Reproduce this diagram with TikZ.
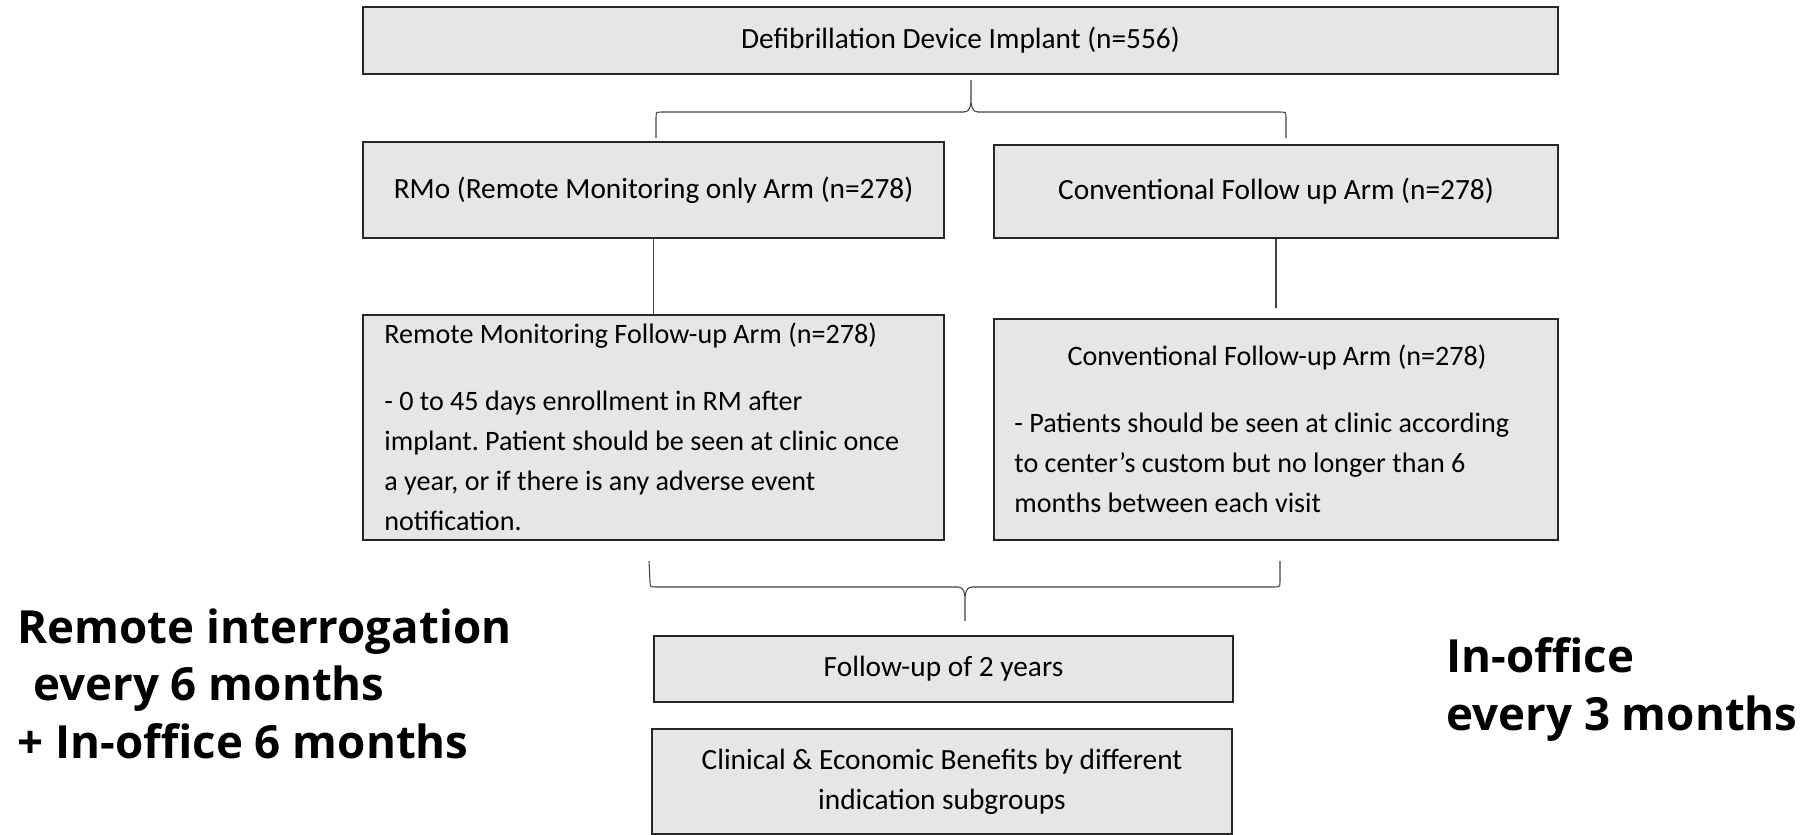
\documentclass[tikz,border=0pt]{standalone}
\usepackage{fontspec}
\setmainfont{Carlito}
\newfontfamily\notefont{Open Sans}
\usepackage{tikz}
\usetikzlibrary{positioning}
\definecolor{boxfill}{HTML}{E6E6E6}
\frenchspacing

\begin{document}
\begin{tikzpicture}[x=0.02cm, y=-0.02cm,
    box/.style={draw=black!85, line width=1.2pt, fill=boxfill, inner sep=0pt,
        font=\fontsize{16.7}{22.7}\selectfont, align=center},
    armtext/.style={font=\fontsize{16}{22.7}\selectfont, align=left, anchor=base west, inner sep=0pt},
    link/.style={draw=black!75, line width=0.6pt},
    note/.style={font=\notefont\bfseries\fontsize{26}{32.6}\selectfont,
        align=left, anchor=base west, inner sep=0pt}]
    \useasboundingbox (0,0) rectangle (1813,835);

    \node[box, minimum width=23.9cm, minimum height=1.34cm] (implant) at (960.5,40.5)
        {Defibrillation Device Implant (n=556)};
    \node[box, minimum width=11.62cm, minimum height=1.92cm] (rmo) at (653.5,190)
        {RMo (Remote Monitoring only Arm (n=278)};
    \node[box, minimum width=11.28cm, minimum height=1.86cm] (conv) at (1276,191.5)
        {Conventional Follow up Arm (n=278)};
    \node[box, minimum width=11.62cm, minimum height=4.5cm] (rmfu) at (653.5,427.5) {};
    \node[box, minimum width=11.28cm, minimum height=4.42cm] (convfu) at (1276,429.5) {};
    \node[box, minimum width=11.58cm, minimum height=1.32cm] (twoyears) at (943.5,669)
        {Follow-up of 2 years};
    \node[box, minimum width=11.6cm, minimum height=2.1cm] (benefits) at (942,781.5)
        {Clinical \& Economic Benefits by different\\ indication subgroups};

    \node[armtext] (rmfutext) at (384,530)
        {Remote Monitoring Follow-up Arm (n=278)\\[15.3pt]
         - 0 to 45 days enrollment in RM after\\
         implant. Patient should be seen at clinic once\\
         a year, or if there is any adverse event\\
         notification.};
    \node[armtext, anchor=base] (convfutitle) at (1277,365) {Conventional Follow-up Arm (n=278)};
    \node[armtext] (convfutext) at (1014,512)
        {- Patients should be seen at clinic according\\
         to center’s custom but no longer than 6\\
         months between each visit};

    \draw[link] (rmo) -- (rmfu);
    \draw[link, shorten >=0.2cm] (conv) -- (convfu);

    \draw[link] (656,138) -- (656,118) .. controls (656,112) .. (662,112) -- (964,112)
        .. controls (970,112) and (971,106) .. (971,98) -- (971,80) -- (971,98)
        .. controls (971,106) and (972,112) .. (978,112) -- (1280,112)
        .. controls (1286,112) .. (1286,118) -- (1286,138);
    \draw[link] (649,561) -- (650,581) .. controls (650,587) .. (656,587) -- (958,587)
        .. controls (964,587) and (965,593) .. (965,601) -- (965,621) -- (965,601)
        .. controls (965,593) and (966,587) .. (972,587) -- (1274,587)
        .. controls (1280,587) .. (1280,581) -- (1280,561);

    \node[note] (remote) at (17,758)
        {Remote interrogation\\\hspace*{0.35em}every 6 months\\+ In-office 6 months};
    \node[note] (office) at (1446,730) {In-office\\every 3 months};
\end{tikzpicture}
\end{document}
